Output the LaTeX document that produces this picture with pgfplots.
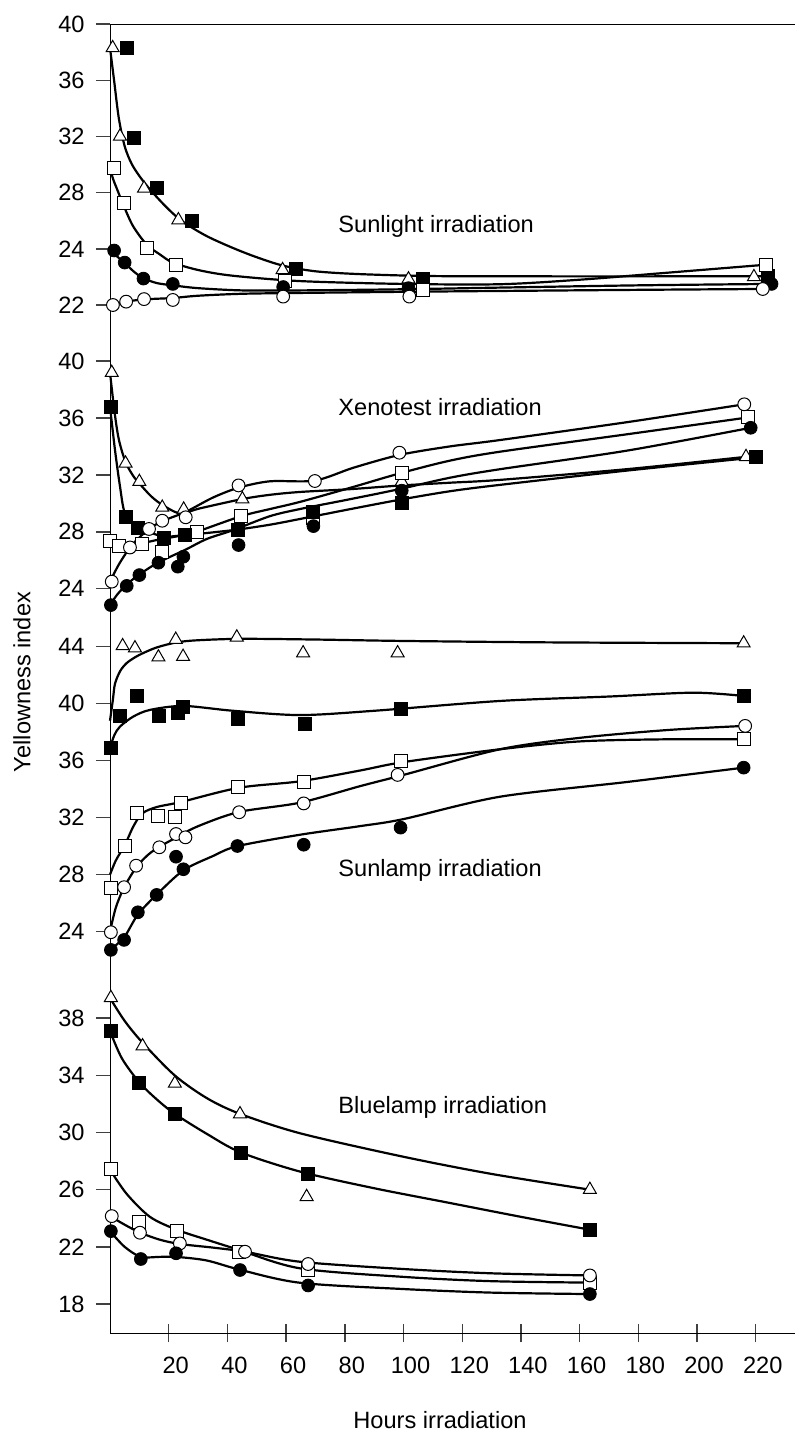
\documentclass[border=0pt]{standalone}
\usepackage{fontspec}
\setmainfont{Liberation Sans}
\usepackage{pgfplots}
\pgfplotsset{compat=1.18}

\pgfplotsset{
  every non boxed x axis/.append style={x axis line style=-},
  every non boxed y axis/.append style={y axis line style=-},
  noarr/.style={
    every outer x axis line/.append style={-},
    every outer y axis line/.append style={-},
    every inner x axis line/.append style={-},
    every inner y axis line/.append style={-},
    x axis line style={-},
    y axis line style={-},
  },
  panel/.style={
    scale only axis,
    x=1.4675pt, xmin=0, xmax=233.4,
    anchor=north west,
    axis y line=left,
    tick align=outside,
    ytick pos=left,
    major tick length=7pt,
    every axis line/.append style={line width=1.5pt},
    tick style={line width=0.7pt, black!75},
    clip=false,
    /pgf/number format/assume math mode=true,
    tick label style={font=\fontsize{11.8}{14}\selectfont},
    yticklabel style={inner sep=0pt, xshift=-5.5pt},
  },
  mycurve/.style={no marks, smooth, line width=1.1pt, black},
  mtri/.style={only marks, mark=triangle*, mark size=3.75pt, mark options={fill=white, draw=black, line width=0.5pt}},
  msqf/.style={only marks, mark=square*, mark size=3.25pt, mark options={fill=black, draw=black}},
  msqo/.style={only marks, mark=square*, mark size=3.25pt, mark options={fill=white, draw=black, line width=0.5pt}},
  mcf/.style={only marks, mark=*, mark size=3.2pt, mark options={fill=black, draw=black}},
  mco/.style={only marks, mark=*, mark size=3.2pt, mark options={fill=white, draw=black, line width=0.5pt}},
}

\begin{document}
\begin{tikzpicture}
\useasboundingbox (-55pt,0pt) rectangle (342.5pt,-718.5pt);

% ---------------- Panel 1: Sunlight ----------------
\begin{axis}[panel, at={(0pt,-12pt)},
  axis x line=top, xtick=\empty,
  y=7.025pt, ymin=20.93, ymax=40,
  y coord trafo/.code={\begingroup\pgfkeys{/pgf/fpu=true,/pgf/fpu/output format=fixed}\pgfmathparse{(#1<24)?(2*#1-24):(#1)}\global\let\mytrafores\pgfmathresult\endgroup\let\pgfmathresult\mytrafores},
  ytick={22,24,28,32,36,40}, yticklabels={22,24,28,32,36,40}, noarr]
\addplot[mycurve] coordinates {(0,38.3)(1.5,35.8)(3,33.3)(5,31.3)(7.5,30.0)(11,28.9)(15,27.9)(20,26.8)(25,25.9)(33,24.9)(42,24.05)(50,23.7)(59,23.4)(70,23.2)(85,23.1)(110,23.03)(150,23.02)(190,23.02)(224,23.02)};
\addplot[mycurve] coordinates {(0,29.8)(1,29.0)(2.3,28.3)(4.8,27.0)(7.9,25.6)(12.5,24.3)(17,23.8)(21.6,23.5)(30.7,23.23)(42,23.04)(65,22.85)(100,22.75)(133,22.74)(160,22.9)(190,23.15)(223,23.43)};
\addplot[mycurve] coordinates {(0,23.95)(2.5,23.72)(5,23.5)(8,23.2)(11.4,22.95)(16,22.78)(21.4,22.7)(30,22.6)(45,22.52)(65,22.52)(100,22.56)(133,22.62)(180,22.7)(225,22.75)};
\addplot[mycurve] coordinates {(0,22.0)(5.5,22.12)(11.6,22.2)(21.4,22.25)(30,22.33)(45,22.4)(65,22.43)(100,22.47)(133,22.5)(180,22.54)(222,22.57)};
\addplot[mtri] coordinates {(0.9,38.3)(3.4,32.0)(11.6,28.3)(23.3,26.05)(58.8,23.25)(101.7,22.92)(219.4,23.0)};
\addplot[msqf] coordinates {(5.9,38.3)(8.2,31.9)(15.9,28.3)(27.8,26.0)(63.4,23.28)(106.5,22.92)(224.3,23.04)};
\addplot[msqo] coordinates {(1.4,29.73)(4.8,27.28)(12.5,24.05)(22.5,23.43)(59.6,22.87)(106.7,22.54)(223.4,23.43)};
\addplot[mcf] coordinates {(1.4,23.94)(5.0,23.51)(11.4,22.94)(21.4,22.75)(59,22.64)(101.7,22.6)(225.4,22.75)};
\addplot[mco] coordinates {(1,22.0)(5.5,22.12)(11.6,22.21)(21.4,22.18)(59,22.3)(102,22.3)(222.4,22.57)};
\end{axis}

% ---------------- Panel 2: Xenotest ----------------
\begin{axis}[panel, at={(0pt,-167.5pt)},
  axis x line=none, xtick=\empty,
  y=7.115pt, ymin=21.8, ymax=41.83,
  ytick={24,28,32,36,40}, noarr]
\addplot[mycurve] coordinates {(0,39.2)(1.5,36.5)(3,34.5)(5.3,32.9)(8,31.9)(10,31.4)(14,30.5)(17.8,29.9)(23.8,29.3)(30.7,29.65)(45,30.3)(54.5,30.6)(64.7,30.8)(82,31.0)(98.6,31.25)(115.8,31.45)(132.9,31.65)(176,32.4)(216.7,33.27)};
\addplot[mycurve] coordinates {(0,36.8)(1.7,33.75)(3.4,31.2)(5.1,29.3)(9.2,28.4)(17.6,27.7)(25.6,27.77)(42,28.12)(54.5,28.5)(64.7,28.9)(82,29.6)(98.6,30.25)(115.8,30.85)(132.9,31.3)(176,32.3)(220.1,33.23)};
\addplot[mycurve] coordinates {(0,27.3)(3.2,27.05)(7.9,27.07)(15.9,27.42)(25,27.77)(29.5,28.0)(44.7,29.1)(54.5,29.6)(64.7,30.1)(82,31.1)(98.6,32.1)(115.8,33.0)(132.9,33.63)(176,34.85)(217.5,36.04)};
\addplot[mycurve] coordinates {(0,24.5)(3,25.7)(6.8,26.9)(10,27.6)(13.3,28.2)(17.8,28.75)(25.8,29.4)(35,30.4)(43.8,31.1)(54.5,31.55)(69.8,31.6)(82.9,32.5)(98.6,33.4)(115.8,34.0)(132.9,34.45)(176,35.7)(216.1,36.96)};
\addplot[mycurve] coordinates {(0,22.85)(2.5,23.6)(5.7,24.3)(10,25.0)(16.5,25.85)(25.5,26.72)(33,27.5)(42,28.12)(54.5,29.1)(64.7,29.6)(82,30.3)(98.6,31.0)(115.8,31.8)(132.9,32.4)(176,33.7)(218.3,35.31)};
\addplot[mtri] coordinates {(0.6,39.18)(5.3,32.81)(10.0,31.52)(17.8,29.71)(25.1,29.58)(45.1,30.3)(99.4,31.52)(216.7,33.27)};
\addplot[msqo] coordinates {(0,27.37)(3.2,27.0)(11.0,27.12)(17.8,26.6)(29.5,28.0)(44.7,29.1)(69.3,28.97)(99.4,32.15)(217.5,36.04)};
\addplot[msqf] coordinates {(0.3,36.79)(5.3,29.06)(9.5,28.24)(18.2,27.54)(25.6,27.77)(43.5,28.12)(69.3,29.41)(99.4,30.0)(220.1,33.23)};
\addplot[mco] coordinates {(0.6,24.5)(6.8,26.9)(13.3,28.2)(17.8,28.78)(25.8,29.02)(43.8,31.26)(69.8,31.57)(98.6,33.56)(216.1,36.96)};
\addplot[mcf] coordinates {(0.3,22.85)(5.7,24.2)(10.0,24.96)(16.5,25.83)(23.1,25.55)(25.0,26.25)(43.8,27.07)(69.3,28.4)(99.4,30.89)(218.3,35.31)};
\end{axis}

% ---------------- Panel 3: Sunlamp ----------------
\begin{axis}[panel, at={(0pt,-310pt)},
  axis x line=none, xtick=\empty,
  y=7.125pt, ymin=21.31, ymax=45.87,
  ytick={24,28,32,36,40,44}, noarr]
\addplot[mycurve] coordinates {(0,38.8)(1,40.3)(1.7,41.4)(3.5,42.3)(5.7,42.85)(8.5,43.25)(11.3,43.55)(16,43.95)(22.7,44.3)(30,44.45)(45,44.55)(70,44.5)(100,44.4)(150,44.3)(215.9,44.24)};
\addplot[mycurve] coordinates {(0,36.91)(1.5,37.8)(3.4,38.39)(7.9,39.09)(13.6,39.56)(25,39.84)(42,39.5)(64.7,39.2)(90,39.5)(132.9,40.19)(170,40.5)(198.7,40.77)(215.9,40.54)};
\addplot[mycurve] coordinates {(0,28.0)(2,29.0)(5.1,30.1)(8,31.4)(11,32.3)(16,32.75)(24.2,33.1)(44,34.1)(64.7,34.55)(85,35.3)(100,35.9)(132.9,36.8)(160,37.35)(190,37.5)(216.1,37.5)};
\addplot[mycurve] coordinates {(0,24.0)(2,25.7)(4.8,27.1)(8.9,28.5)(13,29.4)(16.8,29.95)(22.5,30.6)(30,31.4)(44,32.4)(64.7,33.05)(85,34.2)(100,35.0)(132.9,36.8)(160,37.6)(190,38.15)(216.4,38.44)};
\addplot[mycurve] coordinates {(0,22.72)(4.8,23.6)(9.5,25.2)(15.9,26.6)(25,28.3)(35,29.3)(43.4,30.0)(64.7,30.8)(85,31.4)(100,31.9)(132.9,33.47)(176,34.5)(215.9,35.51)};
\addplot[mtri] coordinates {(4.3,44.05)(8.5,43.9)(16.5,43.26)(22.4,44.5)(24.9,43.3)(43.2,44.66)(65.8,43.55)(98,43.55)(215.9,44.24)};
\addplot[msqf] coordinates {(0.3,36.91)(3.4,39.14)(9.1,40.54)(16.8,39.14)(23.0,39.37)(24.9,39.79)(43.7,38.9)(66.4,38.6)(99,39.6)(215.9,40.54)};
\addplot[msqo] coordinates {(0.3,27.04)(5.1,30.0)(9.2,32.35)(16.4,32.12)(22.1,32.03)(24.2,33.0)(43.7,34.13)(66,34.5)(99,36.0)(216.1,37.5)};
\addplot[mco] coordinates {(0.3,23.96)(4.8,27.12)(8.9,28.63)(16.8,29.92)(22.5,30.85)(25.7,30.62)(44,32.38)(66,33.0)(98,35.0)(216.4,38.44)};
\addplot[mcf] coordinates {(0.3,22.72)(4.8,23.42)(9.5,25.36)(15.9,26.58)(22.5,29.26)(25.0,28.38)(43.4,30.01)(66,30.1)(99,31.3)(215.9,35.51)};
\end{axis}

% ---------------- Panel 4: Bluelamp ----------------
\begin{axis}[panel, at={(0pt,-485pt)},
  axis x line=bottom, xtick pos=bottom,
  xtick={20,40,...,220},
  xtick style={/pgfplots/major tick length=9.3pt},
  xticklabel style={inner sep=0pt, yshift=-8.2pt, xshift=3.5pt},
  y=7.15pt, ymin=15.97, ymax=41.36,
  ytick={18,22,26,30,34,38}, noarr]
\addplot[mycurve] coordinates {(0,39.4)(5,37.8)(11,36.3)(22,34.0)(33,32.4)(44.3,31.3)(65,29.93)(100,28.3)(130,27.1)(163.5,26.0)};
\addplot[mycurve] coordinates {(0,37.1)(4,35.2)(10,33.5)(16,32.3)(22.1,31.3)(33,29.9)(44.6,28.6)(65,27.25)(90,26.1)(115,25.1)(140,24.1)(163.5,23.2)};
\addplot[mycurve] coordinates {(0,27.4)(5.7,25.7)(13.6,24.1)(22.7,23.2)(33,22.5)(43.8,21.8)(64.7,20.5)(100,19.9)(130,19.6)(163.5,19.5)};
\addplot[mycurve] coordinates {(0,24.15)(5,23.55)(10.2,23.0)(17,22.5)(23.8,22.2)(35,21.95)(46,21.66)(64.7,20.96)(100,20.45)(130,20.15)(163.5,20.0)};
\addplot[mycurve] coordinates {(0,23.1)(5,22.0)(10.5,21.3)(17,21.3)(22.5,21.3)(32.9,21.05)(44.3,20.4)(64.7,19.49)(100,19.05)(130,18.8)(163.5,18.7)};
\addplot[mtri] coordinates {(0.3,39.42)(11.1,36.04)(22.1,33.43)(44.3,31.29)(67,25.5)(163.5,26.0)};
\addplot[msqf] coordinates {(0.3,37.09)(10,33.48)(22.1,31.33)(44.6,28.58)(67.5,27.1)(163.5,23.2)};
\addplot[msqo] coordinates {(0.3,27.42)(10,23.71)(22.7,23.13)(43.8,21.62)(67.5,20.4)(163.5,19.5)};
\addplot[mco] coordinates {(0.6,24.15)(10.2,22.99)(23.8,22.24)(46,21.66)(67.5,20.8)(163.5,20.0)};
\addplot[mcf] coordinates {(0.3,23.1)(10.5,21.15)(22.5,21.55)(44.3,20.38)(67.5,19.3)(163.5,18.7)};
\end{axis}

% ---------------- Texts ----------------
\begin{scope}[every node/.style={font=\fontsize{11.8}{14}\selectfont, inner sep=0pt}]
\node[anchor=base west] at (114pt,-116pt) {Sunlight irradiation};
\node[anchor=base west] at (114pt,-207.5pt) {Xenotest irradiation};
\node[anchor=base west] at (114pt,-438.3pt) {Sunlamp irradiation};
\node[anchor=base west] at (114pt,-556.5pt) {Bluelamp irradiation};
\node[rotate=90] at (-44pt,-341pt) {Yellowness index};
\node at (165pt,-710pt) {Hours irradiation};
\end{scope}
\end{tikzpicture}
\end{document}
